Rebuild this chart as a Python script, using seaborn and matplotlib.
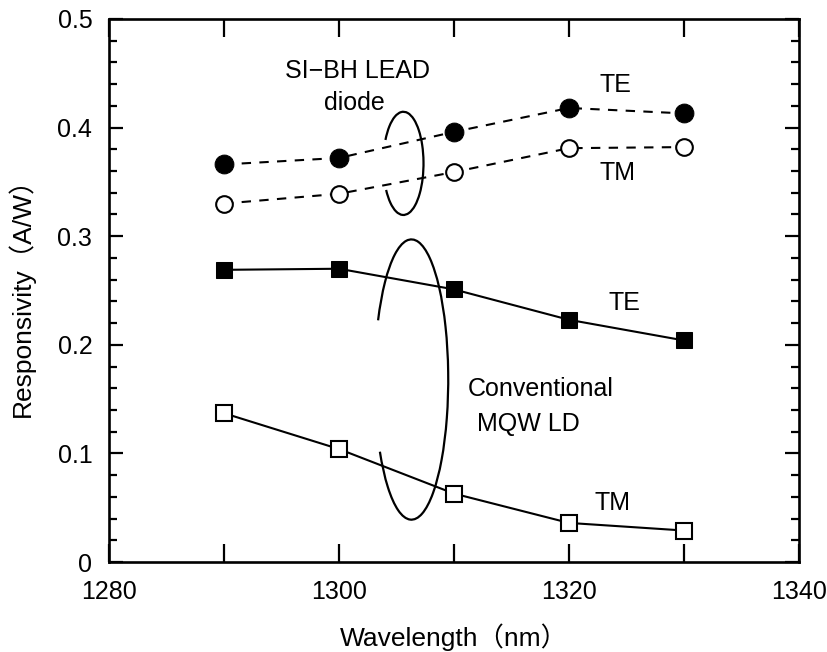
import matplotlib
matplotlib.use("Agg")
import matplotlib.pyplot as plt
from matplotlib.patches import Arc
from matplotlib.ticker import MultipleLocator
import numpy as np
import pandas as pd
import seaborn as sns

# wavelengths (nm)
wavelength = [1290, 1300, 1310, 1320, 1330]

# SI-BH LEAD diode
lead_te = [0.366, 0.372, 0.396, 0.418, 0.413]
lead_tm = [0.330, 0.339, 0.359, 0.381, 0.382]

# conventional MQW LD
mqw_te = [0.269, 0.270, 0.251, 0.223, 0.204]
mqw_tm = [0.137, 0.104, 0.063, 0.036, 0.029]

x_ticks = [1280, 1300, 1320, 1340]
y_ticks = [0, 0.1, 0.2, 0.3, 0.4, 0.5]

sns.set_theme(style="ticks")
plt.rcParams["font.family"] = ["Liberation Sans", "Noto Sans CJK JP", "DejaVu Sans"]
plt.rcParams["text.color"] = "black"
plt.rcParams["axes.labelcolor"] = "black"

df = pd.DataFrame({"wavelength": wavelength, "lead_te": lead_te, "lead_tm": lead_tm,
                   "mqw_te": mqw_te, "mqw_tm": mqw_tm})

fig = plt.figure(figsize=(8.27, 6.52), dpi=100)
ax = fig.add_axes([0.1318, 0.138, 0.8343, 0.833])

sns.lineplot(data=df, x="wavelength", y="lead_te", ax=ax, color="black", lw=1.5,
             linestyle=(0, (4.5, 4)), marker="o", markersize=13.5,
             markerfacecolor="black", markeredgecolor="black")
sns.lineplot(data=df, x="wavelength", y="lead_tm", ax=ax, color="black", lw=1.5,
             linestyle=(0, (4.5, 4)), marker="o", markersize=12,
             markerfacecolor="white", markeredgecolor="black", markeredgewidth=1.5)
sns.lineplot(data=df, x="wavelength", y="mqw_te", ax=ax, color="black", lw=1.5,
             marker="s", markersize=12, markerfacecolor="black", markeredgecolor="black")
sns.lineplot(data=df, x="wavelength", y="mqw_tm", ax=ax, color="black", lw=1.5,
             marker="s", markersize=11, markerfacecolor="white", markeredgecolor="black",
             markeredgewidth=1.5)


def open_ellipse(xy, w, h, start, end):
    # start/end are angles on the ellipse itself; Arc wants them in data space
    def to_data(eta):
        e = np.deg2rad(eta)
        return np.rad2deg(np.arctan2(h * np.sin(e), w * np.cos(e)))
    ax.add_patch(Arc(xy, w, h, theta1=to_data(start), theta2=to_data(end),
                     color="black", lw=1.6))


# grouping ellipses, open on the left where the curves pass
open_ellipse((1305.6, 0.367), 3.5, 0.095, 211, 153)
open_ellipse((1306.3, 0.168), 6.4, 0.258, 211, 155)

fs = 18
ax.text(1301.6, 0.452, "SI\u2212BH LEAD", fontsize=fs, ha="center", va="center")
ax.text(1301.3, 0.423, "diode", fontsize=fs, ha="center", va="center")
ax.text(1324.0, 0.439, "TE", fontsize=fs, ha="center", va="center")
ax.text(1324.2, 0.358, "TM", fontsize=fs, ha="center", va="center")
ax.text(1324.8, 0.2385, "TE", fontsize=fs, ha="center", va="center")
ax.text(1317.5, 0.159, "Conventional", fontsize=fs, ha="center", va="center")
ax.text(1316.5, 0.127, "MQW LD", fontsize=fs, ha="center", va="center")
ax.text(1323.8, 0.054, "TM", fontsize=fs, ha="center", va="center")

ax.set_xlim(1280, 1340)
ax.set_ylim(0, 0.5)
ax.set_xticks(x_ticks)
ax.set_xticklabels([str(t) for t in x_ticks])
ax.xaxis.set_minor_locator(MultipleLocator(10))
ax.set_yticks(y_ticks)
ax.set_yticklabels(["0"] + [f"{t:.1f}" for t in y_ticks[1:]])
ax.yaxis.set_minor_locator(MultipleLocator(0.02))

ax.tick_params(axis="both", which="both", direction="in", top=True, right=True,
               width=1.6, labelsize=fs, colors="black")
ax.tick_params(axis="x", which="both", length=13, pad=13)
ax.tick_params(axis="y", which="major", length=10, pad=12)
ax.tick_params(axis="y", which="minor", length=6)

for sp in ax.spines.values():
    sp.set_linewidth(1.9)
    sp.set_color("black")

ax.set_xlabel("Wavelength\uff08nm\uff09", fontsize=fs + 1, labelpad=14)
ax.set_ylabel("Responsivity\uff08A/W\uff09", fontsize=fs + 1, labelpad=16)

fig.savefig("out.png", dpi=100)
